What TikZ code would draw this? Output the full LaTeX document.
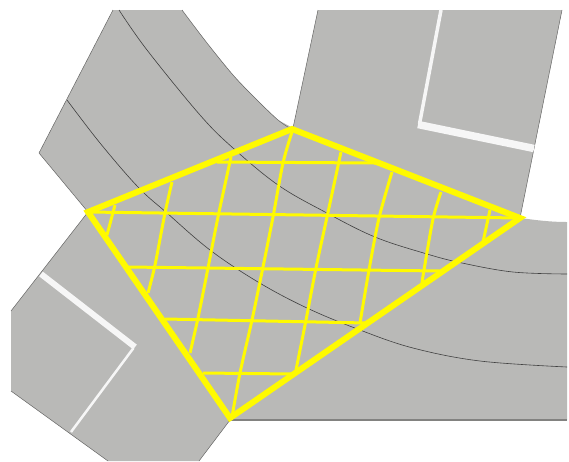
\documentclass[tikz,border=0pt]{standalone}
\definecolor{road}{HTML}{B9B9B7}
\definecolor{hatch}{HTML}{FFFA00}
\definecolor{paint}{HTML}{F6F6F6}
\begin{document}
\begin{tikzpicture}[x=1pt,y=-1pt,
  roadfill/.style={fill=road},
  kerb/.style={draw=road!55!black,line width=0.5pt,line join=round},
  centre/.style={draw=black!75,line width=0.6pt},
  thinhatch/.style={draw=hatch,line width=3pt},
  mainhatch/.style={draw=hatch,line width=6pt,line join=miter},
  stopline/.style={draw=paint,line width=7.5pt},
  edgeline/.style={draw=paint,line width=3.5pt}]
\useasboundingbox (0,0) rectangle (569,461);
% road surface
\path[roadfill] (113,10) -- (39,153) -- (88,212) -- (11,311) -- (11,391) -- (108,461)
  -- (199,461) -- (230,420) -- (567,420) -- (567,222)
  .. controls (550,222) and (535,220) .. (520,218)
  -- (562,10) -- (318,10) -- (293,128)
  -- (278,120) -- (255,98) -- (233,75) -- (207,43) -- (182,10) -- cycle;
\draw[kerb] (113,10) -- (39,153) -- (88,212) -- (11,311);
\draw[kerb] (11,391) -- (108,461);
\draw[kerb] (199,461) -- (230,420);
\draw[kerb] (520,218) -- (562,10);
\draw[kerb] (293,128) -- (318,10);
\draw[kerb] plot[smooth,tension=0.6] coordinates {(293,130) (278,120) (255,98) (233,75) (207,43) (182,10)};
\draw[road!70!black,line width=1.2pt] (230,420) -- (567,420);
% centre lines
\draw[centre] plot[smooth,tension=0.6] coordinates {(119,10) (147,50) (200,115) (233,148) (278,185) (325,212) (375,237) (427,254) (462,263) (513,272) (567,274)};
\draw[centre] plot[smooth,tension=0.6] coordinates {(67,100) (100,143) (138,187) (167,213) (210,250) (258,282) (307,308) (360,330) (413,348) (480,361) (567,367)};
% white markings
\coordinate (ua) at (441,10); \coordinate (ub) at (419.5,124);
\coordinate (uc) at (418,124.5); \coordinate (ud) at (534,148.5);
\coordinate (la) at (41,274); \coordinate (lb) at (135,347);
\coordinate (lc) at (133.5,348); \coordinate (ld) at (71,432);
\draw[edgeline] (ua) -- (ub);
\draw[stopline] (uc) -- (ud);
\draw[stopline,line width=6pt] (la) -- (lb);
\draw[edgeline,line width=2.5pt] (lc) -- (ld);
% hatch corners
\coordinate (T) at (292,129);
\coordinate (R) at (520,218);
\coordinate (B) at (230,418);
\coordinate (L) at (88,212);
% hatch lines
\coordinate (h1a) at (217,162); \coordinate (h1b) at (375,163);
\coordinate (h3a) at (128,267); \coordinate (h3b) at (440,271);
\coordinate (h4a) at (165,319); \coordinate (h4b) at (367,323);
\coordinate (h5a) at (203,373); \coordinate (h5b) at (293,374);
\draw[thinhatch] (h1a) -- (h1b);
\draw[thinhatch] (L) -- (R);
\draw[thinhatch] (h3a) -- (h3b);
\draw[thinhatch] (h4a) -- (h4b);
\draw[thinhatch] (h5a) -- (h5b);
\draw[thinhatch] (115,205) -- (107,235);
\draw[thinhatch] plot[smooth] coordinates {(172,182) (165,213) (155,265) (148,293)};
\draw[thinhatch] plot[smooth] coordinates {(231,157) (218,217) (208,268) (198,318) (190,353)};
\draw[thinhatch] plot[smooth] coordinates {(292,132) (283,163) (273,217) (263,267) (252,320) (240,373) (232,417)};
\draw[thinhatch] plot[smooth] coordinates {(341,152) (327,217) (316,268) (306,320) (296,370)};
\draw[thinhatch] plot[smooth] coordinates {(392,172) (379,218) (369,270) (360,323)};
\draw[thinhatch] plot[smooth] coordinates {(441,192) (433,219) (424,270) (422,283)};
\draw[thinhatch] (490,210) -- (483,242);
\draw[mainhatch] (T) -- (R) -- (B) -- (L) -- cycle;
\end{tikzpicture}
\end{document}
